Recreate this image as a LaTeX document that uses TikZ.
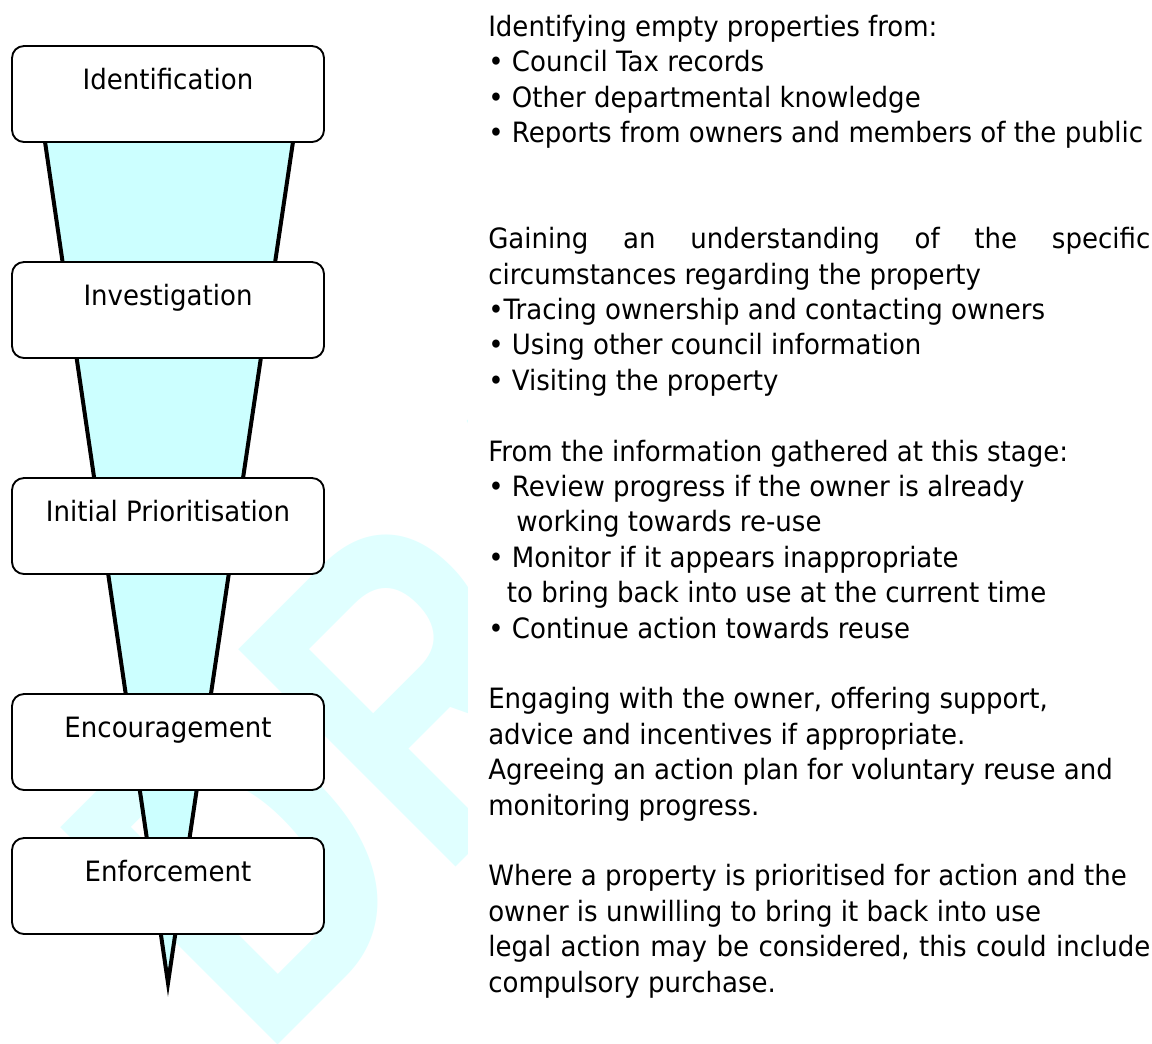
\documentclass[tikz,border=0pt]{standalone}
\usepackage{fontspec}
\setmainfont{DejaVu Sans}[FakeStretch=0.93]
\newfontfamily\wmfont{Liberation Sans}
\definecolor{funnelfill}{HTML}{CCFFFF}
\definecolor{wmcol}{HTML}{E0FFFF}
\begin{document}
\begin{tikzpicture}[x=0.75pt,y=-0.75pt,
  stagebox/.style={draw=black, line width=1.4pt, fill=white, rounded corners=9pt,
    minimum width=234pt, minimum height=72pt, inner sep=0pt},
  stagelabel/.style={anchor=base, inner sep=0pt, font=\fontsize{21}{26}\selectfont},
  desc/.style={anchor=north west, inner sep=0pt, align=left,
    font=\fontsize{21}{26.55}\selectfont}]
\useasboundingbox (0,0) rectangle (1152,1043);
\fill[white] (0,0) rectangle (1152,1043);
% watermark
\begin{scope}
\clip (0,0) rectangle (467,1043);
\node[anchor=base west, inner sep=0pt, rotate=45, text=wmcol,
  font=\wmfont\bfseries\fontsize{335}{335}\selectfont] (wm) at (261,1062) {\scalebox{0.78}[1]{DRAFT}};
\end{scope}
% funnel
\coordinate (ftl) at (38.9,100);
\coordinate (ftr) at (299.2,100);
\coordinate (fap) at (168,983);
\fill[funnelfill] (ftl) -- (fap) -- (ftr) -- cycle;
\draw[line width=3pt, miter limit=20] (ftl) -- (fap) -- (ftr);
% stage boxes
\node[stagebox] (b1) at (168,94) {};
\node[stagebox] (b2) at (168,310) {};
\node[stagebox] (b3) at (168,526) {};
\node[stagebox] (b4) at (168,742) {};
\node[stagebox] (b5) at (168,886) {};
\node[stagelabel] (l1) at (168,89) {Identification};
\node[stagelabel] (l2) at (168,305) {Investigation};
\node[stagelabel] (l3) at (168,521) {Initial Prioritisation};
\node[stagelabel] (l4) at (168,737) {Encouragement};
\node[stagelabel] (l5) at (168,881) {Enforcement};
% descriptions
\node[desc] (d1) at (488,11.2) {\strut Identifying empty properties from:\\
• Council Tax records\\
• Other departmental knowledge\\
• Reports from owners and members of the public};
\node[desc] (d2) at (488,223.6) {\strut\hbox to 496.5pt{Gaining\hfill an\hfill understanding\hfill of\hfill the\hfill specific}\\
circumstances regarding the property\\
•Tracing ownership and contacting owners\\
• Using other council information\\
• Visiting the property};
\node[desc] (d3) at (488,436) {\strut From the information gathered at this stage:\\
• Review progress if the owner is already\\
\hspace*{21pt}working towards re-use\\
• Monitor if it appears inappropriate\\
\hspace*{14pt}to bring back into use at the current time\\
• Continue action towards reuse};
\node[desc] (d4) at (488,683.8) {\strut Engaging with the owner, offering support,\\
advice and incentives if appropriate.\\
Agreeing an action plan for voluntary reuse and\\
monitoring progress.};
\node[desc] (d5) at (488,860.8) {\strut Where a property is prioritised for action and the\\
owner is unwilling to bring it back into use\\
\hbox to 496.5pt{legal\hfill action\hfill may\hfill be\hfill considered,\hfill this\hfill could\hfill include}\\
compulsory purchase.};
\end{tikzpicture}
\end{document}
